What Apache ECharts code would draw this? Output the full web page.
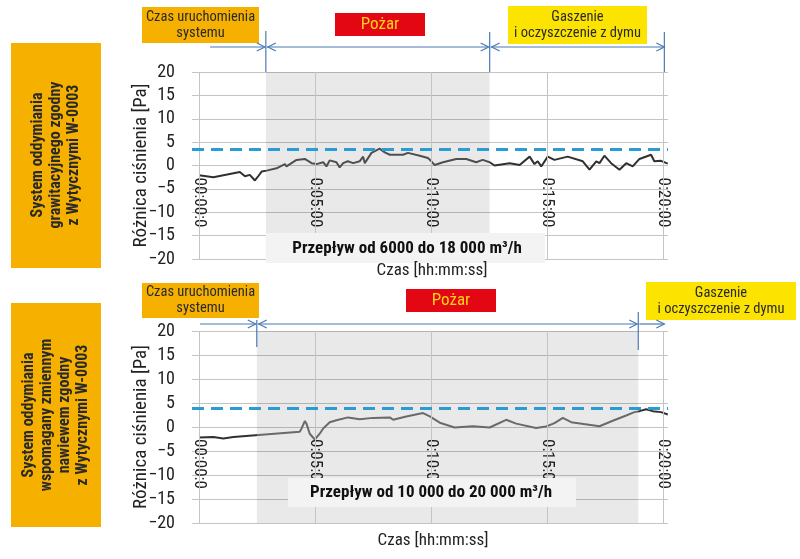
<!DOCTYPE html>
<html><head><meta charset="utf-8">
<script src="https://cdn.jsdelivr.net/npm/echarts@6/dist/echarts.min.js"></script>
<style>html,body{margin:0;padding:0;background:#fff}#c{width:800px;height:559px}</style>
</head><body><div id="c"></div>
<script>
// ---- data ----
const timeTop = [0.0,0.62,1.76,1.98,2.19,2.41,2.55,2.70,2.91,3.34,3.70,3.77,4.20,4.56,4.85,5.06,5.35,5.49,5.63,5.92,6.06,6.21,6.41,6.64,6.92,7.07,7.14,7.43,7.78,8.00,8.22,8.79,9.00,9.51,9.86,10.01,10.15,10.51,11.08,11.51,11.94,12.22,12.52,12.73,13.38,13.81,14.24,14.45,14.59,14.74,15.02,15.31,15.88,16.53,16.82,17.11,17.25,17.46,17.75,18.11,18.40,18.68,18.97,19.47,19.61,19.90,20.19];
const pressureTop = [-2.1,-2.5,-1.4,-2.3,-2.0,-3.2,-2.3,-1.3,-1.1,-0.6,0.3,-0.2,1.2,1.4,0.5,0.3,0.7,-0.2,1.1,0.7,-0.4,0.5,0.9,0.5,0.9,1.9,0.5,2.7,3.6,2.8,2.3,2.3,2.7,2.1,1.6,0.9,0.1,0.7,1.4,1.4,0.7,1.2,0.7,0.0,0.5,0.1,1.9,0.3,0.9,-0.2,1.9,1.2,1.9,0.9,-0.9,0.9,0.5,2.1,0.5,-0.9,0.5,-0.2,1.4,2.3,0.9,1.0,0.4];
const timeBottom = [0.0,0.62,1.05,1.48,4.34,4.42,4.56,4.63,4.77,4.99,5.20,5.35,5.63,5.92,6.42,6.92,7.50,8.22,8.36,8.93,9.65,9.94,10.37,11.01,11.80,12.52,13.23,13.66,14.52,14.95,15.31,15.67,16.03,17.25,17.82,18.40,18.75,18.97,19.26,19.54,19.90,20.19];
const pressureBottom = [-2.2,-2.1,-2.4,-2.1,-1.0,-0.3,1.25,0.7,-1.4,-2.6,-1.4,-0.3,1.0,1.4,2.0,1.6,1.9,2.0,1.5,2.2,2.9,2.2,0.9,-0.1,0.15,-0.1,1.5,0.7,-0.2,0.1,0.8,1.9,1.0,0.15,1.3,2.4,3.1,3.3,3.7,3.3,3.1,2.6];
const thresholdTop = 3.5;
const thresholdBottom = 4.0;
const phasesTop = [2.88, 12.52, 20];     // end of start-up, end of fire, end of test (minutes)
const phasesBottom = [2.49, 18.92, 20];
const xTicks = [0, 5, 10, 15, 20];
const xTickLabels = ['00:00:0', '0:05:00', '0:10:00', '0:15:00', '0:20:00'];
const yAxisTitle = 'Różnica ciśnienia [Pa]';
const xAxisTitle = 'Czas [hh:mm:ss]';
const systemTop = ['System oddymiania', 'grawitacyjnego zgodny', 'z Wytycznymi W-0003'];
const systemBottom = ['System oddymiania', 'wspomagany zmiennym', 'nawiewem zgodny', 'z Wytycznymi W-0003'];
const flowTop = 'Przepływ od 6000 do 18 000 m³/h';
const flowBottom = 'Przepływ od 10 000 do 20 000 m³/h';
const phaseStart = 'Czas uruchomienia\nsystemu';
const phaseFire = 'Pożar';
const phaseEnd = 'Gaszenie\ni oczyszczenie z dymu';

const FONT = "'Roboto Condensed','DejaVu Sans Condensed',sans-serif";
const GRID = '#c4c4c4';
const DARK = '#303030';
const BLUE = '#4a7ab5';
const grids = [{left:192, width:476, top:72, height:187},{left:192, width:476, top:331, height:192}];

function fmtY(v){ return v < 0 ? '\u2212' + Math.abs(v) : String(v); }
function fmtX(v){ const i = xTicks.indexOf(v); return i >= 0 ? xTickLabels[i] : ''; }

function xAxis(gi){
  return { type:'value', gridIndex:gi, min:-0.3, max:20.2,
    offset: -grids[gi].height / 2,   // put the axis on the zero line (range -20..20)
    splitLine:{show:false}, axisTick:{show:false},
    axisLine:{show:false, onZero:false},
    axisLabel:{customValues:xTicks, formatter:fmtX, rotate:-90, margin:12,
      fontSize:17, fontFamily:FONT, color:'#222'} };
}
function yAxis(gi){
  return { type:'value', gridIndex:gi, min:-20, max:20, interval:5,
    axisLine:{show:false}, axisTick:{show:false},
    splitLine:{show:true, lineStyle:{color:GRID, width:1}},
    axisLabel:{formatter:fmtY, fontSize:18, fontFamily:FONT, color:'#222', margin:17},
    name:yAxisTitle, nameLocation:'middle', nameRotate:90, nameGap:41, nameMoveOverlap:false,
    nameTextStyle:{fontSize:19, fontFamily:FONT, color:'#222'} };
}
function series(gi, times, vals, thr, phases){
  return { type:'line', xAxisIndex:gi, yAxisIndex:gi, showSymbol:false, symbol:'none',
    data: times.map((t,i)=>[t, vals[i]]),
    lineStyle:{width:2}, z:3,
    markArea:{silent:true, itemStyle:{color:'rgba(0,0,0,0.085)'},
      data:[[{xAxis:phases[0]},{xAxis:phases[1]}]]},
    markLine:{silent:true, symbol:'none', animation:false, label:{show:false},
      data: xTicks.map(t=>({xAxis:t, lineStyle:{color:GRID, width:1, type:'solid'}}))
        .concat([{yAxis:thr, lineStyle:{color:'#2b9bd4', width:3, type:[12,7]}}])}
  };
}
function pieces(phases, inner){
  return [{lt:phases[0], color:DARK},{gte:phases[0], lt:phases[1], color:inner},{gte:phases[1], color:DARK}];
}

const chart = echarts.init(document.getElementById('c'), null, {renderer:'canvas'});
chart.setOption({
  animation:false,
  backgroundColor:'#fff',
  textStyle:{fontFamily:FONT},
  grid:grids,
  xAxis:[xAxis(0), xAxis(1)],
  yAxis:[yAxis(0), yAxis(1)],
  visualMap:[
    {show:false, type:'piecewise', seriesIndex:0, dimension:0, pieces:pieces(phasesTop,'#4f4f4f')},
    {show:false, type:'piecewise', seriesIndex:1, dimension:0, pieces:pieces(phasesBottom,'#6a6a6a')}
  ],
  series:[series(0,timeTop,pressureTop,thresholdTop,phasesTop),
          series(1,timeBottom,pressureBottom,thresholdBottom,phasesBottom)]
});

// ---- annotations ----
function px(gi, t){ return chart.convertToPixel({gridIndex:gi}, [t, 0])[0]; }
function py(gi, v){ return chart.convertToPixel({gridIndex:gi}, [0, v])[1]; }
const els = [];
function rect(x,y,w,h,fill){ els.push({type:'rect', z:100, shape:{x:x,y:y,width:w,height:h}, style:{fill:fill}}); }
function text(x,y,str,size,color,weight,rot,lh){
  els.push({type:'text', z:101, x:x, y:y, rotation:rot||0,
    style:{text:str, fontSize:size, fontFamily:FONT, fill:color, fontWeight:weight||'normal',
      align:'center', verticalAlign:'middle', lineHeight:lh||Math.round(size*1.15)}});
}
function line(x1,y1,x2,y2){ els.push({type:'line', z:100, shape:{x1:x1,y1:y1,x2:x2,y2:y2}, style:{stroke:BLUE, lineWidth:1.2}}); }
function head(x,y,dir){ // dir +1 right, -1 left
  els.push({type:'polyline', z:100, shape:{points:[[x-dir*8,y-4],[x,y],[x-dir*8,y+4]]}, style:{stroke:BLUE, lineWidth:1.2, fill:null}});
}
function arrows(gi, phases, y, startX, yTopV, lastBoth){
  const a = px(gi, phases[0]), b = px(gi, phases[1]), c = px(gi, phases[2]) + 1;
  const top = py(gi, 20);
  line(startX, y, a-1, y); head(a-1, y, 1);
  line(a+1, y, b-1, y); head(a+2, y, -1); head(b-1, y, 1);
  line(b+1, y, c, y); if (lastBoth) head(b+2, y, -1); head(c, y, 1);
  line(a, yTopV[0], a, yTopV[1]); line(b, yTopV[2], b, yTopV[3]);
  if (lastBoth) line(c, yTopV[2], c, top);
}

// top chart
rect(11,43,90,225,'#f5b000');
text(56,155,systemTop.join('\n'),16,'#2a2a2a','bold',Math.PI/2,18);
rect(142,7,117,36,'#f5b000'); text(200.5,25,phaseStart,14.5,'#2a2a2a','normal',0,16);
rect(335,13,90,23,'#e30613'); text(380,24.5,phaseFire,17,'#ffd41a');
rect(508,6,139,38,'#fce400'); text(577.5,25,phaseEnd,14.5,'#2a2a2a','normal',0,16);
arrows(0, phasesTop, 47, 210, [31, py(0,20), 32, py(0,20)], true);
rect(px(0,phasesTop[0]),233,545-px(0,phasesTop[0]),30,'#f3f3f3');
text(407,249,flowTop,17,'#111','bold');
text(432,271,xAxisTitle,17,'#222');

// bottom chart
rect(11,303,90,224,'#f5b000');
text(56,415,systemBottom.join('\n'),16,'#2a2a2a','bold',Math.PI/2,18);
rect(142,283,117,35,'#f5b000'); text(200.5,300.5,phaseStart,14.5,'#2a2a2a','normal',0,16);
rect(406,289,90,23,'#e30613'); text(451,300.5,phaseFire,17,'#ffd41a');
rect(646,282,150,38,'#fce400'); text(721,301,phaseEnd,14.5,'#2a2a2a','normal',0,16);
arrows(1, phasesBottom, 324, 200, [320, 347, 312, 350], false);
rect(288,478,288,29,'#f3f3f3');
text(431,493,flowBottom,17,'#111','bold');
text(433,541,xAxisTitle,17,'#222');

chart.setOption({graphic:{elements:els}});
</script></body></html>
